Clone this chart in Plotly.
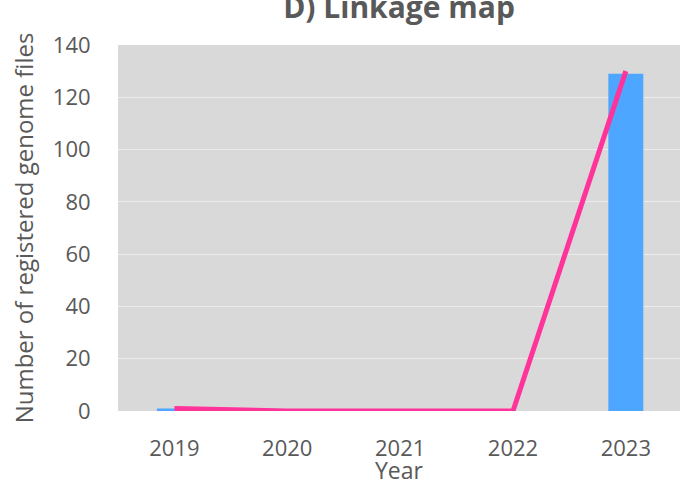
import plotly.graph_objects as go

years = ["2019", "2020", "2021", "2022", "2023"]
bar_values = [1, 0, 0, 0, 129]
line_values = [1, 0, 0, 0, 130]
y_ticks = [0, 20, 40, 60, 80, 100, 120, 140]

font_family = "Open Sans, Noto Sans, sans-serif"
grey = "#595959"

fig = go.Figure()
fig.add_trace(go.Bar(x=years, y=bar_values, marker=dict(color="#4da6ff", line=dict(width=0)),
                     showlegend=False))
fig.add_trace(go.Scatter(x=years, y=line_values, mode="lines",
                         line=dict(color="#ff3399", width=5), showlegend=False))

fig.update_layout(
    width=680, height=486,
    margin=dict(l=118, r=0, t=45, b=75),
    paper_bgcolor="white",
    plot_bgcolor="#d9d9d9",
    bargap=0.69,
    font=dict(family=font_family, color=grey),
    title=dict(text="<b>D) Linkage map</b>", x=0.5, xref="paper", xanchor="center",
               y=(486 - 18) / 486, yref="container", yanchor="bottom",
               font=dict(size=30, color=grey, family=font_family)),
    xaxis=dict(
        type="category", range=[-0.5, 4.48],
        tickfont=dict(size=22, color=grey),
        ticks="outside", ticklen=18, tickcolor="rgba(0,0,0,0)",
        showgrid=False, showline=False, zeroline=False,
        title=dict(text="Year", font=dict(size=23, color=grey), standoff=0),
    ),
    yaxis=dict(
        range=[0, 140], tickvals=y_ticks,
        tickfont=dict(size=22, color=grey),
        ticks="outside", ticklen=22, tickcolor="rgba(0,0,0,0)",
        showgrid=True, gridcolor="#ececec", gridwidth=1,
        zeroline=False, showline=False,
        title=dict(text="Number of registered genome files", font=dict(size=24, color=grey), standoff=12),
    ),
)

fig.write_html("out.html")
